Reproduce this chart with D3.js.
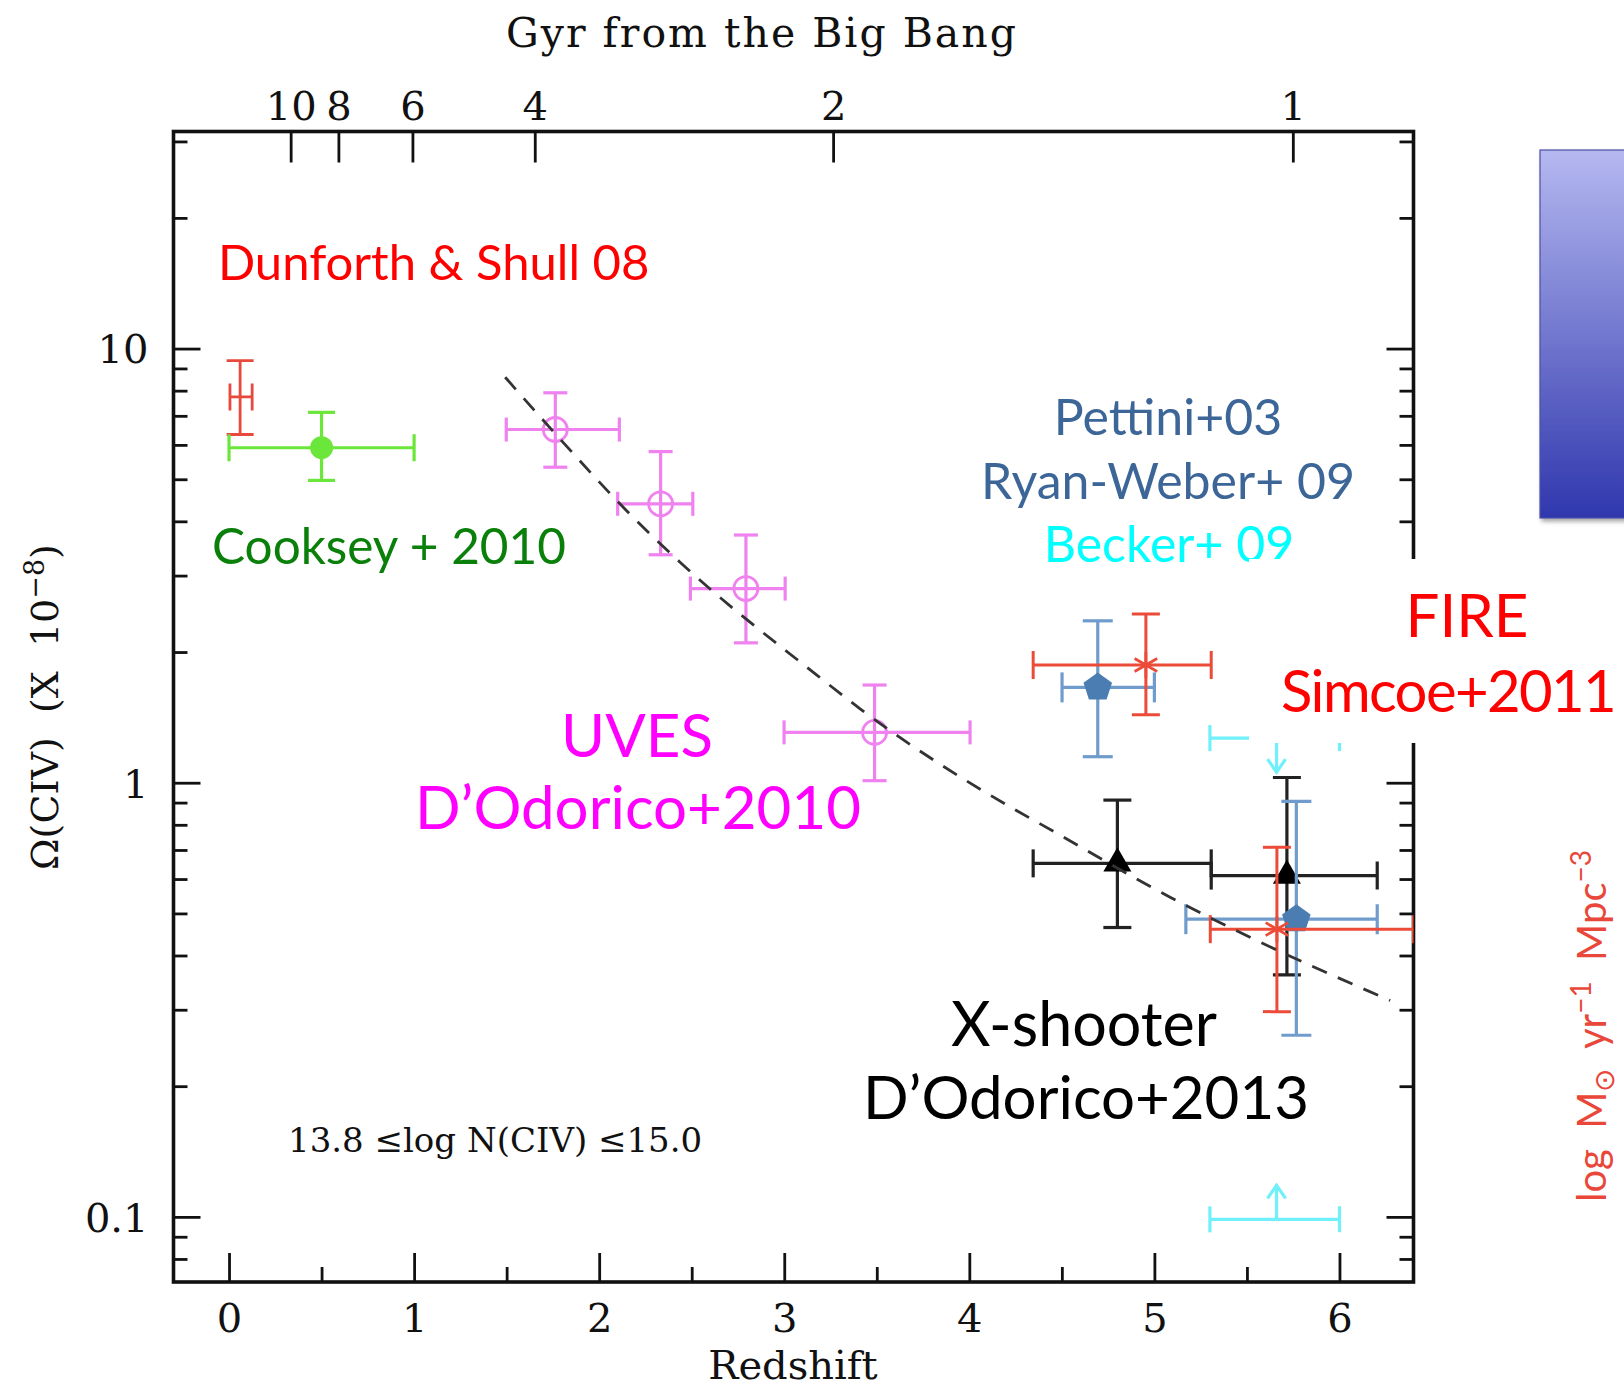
<!DOCTYPE html>
<html>
<head>
<meta charset="utf-8">
<script src="https://cdn.jsdelivr.net/npm/d3@7"></script>
<style>
  body { margin: 0; background: #fff; }
  svg { display: block; }
</style>
</head>
<body>
<svg id="chart" width="1624" height="1387"></svg>
<script>
// ---------- data: Omega(CIV) x 1e-8 versus redshift ----------
// Dunforth & Shull 08
const dunforthZ = [0.06], dunforthZLo = [0.005], dunforthZHi = [0.125];
const dunforthOmega = [7.74], dunforthLo = [6.34], dunforthHi = [9.38];

// Cooksey + 2010
const cookseyZ = [0.50], cookseyZLo = [0.0], cookseyZHi = [1.0];
const cookseyOmega = [5.91], cookseyLo = [4.97], cookseyHi = [7.13];

// UVES, D'Odorico+2010
const uvesZ = [1.763, 2.332, 2.793, 3.488];
const uvesZLo = [1.498, 2.100, 2.493, 2.999];
const uvesZHi = [2.109, 2.506, 3.005, 4.004];
const uvesOmega = [6.51, 4.39, 2.80, 1.306];
const uvesLo = [5.33, 3.35, 2.10, 1.011];
const uvesHi = [7.91, 5.79, 3.72, 1.679];

// Pettini+03 / Ryan-Weber+09
const pettiniZ = [4.694, 5.767], pettiniZLo = [4.501, 5.170], pettiniZHi = [5.000, 6.204];
const pettiniOmega = [1.658, 0.485], pettiniLo = [1.148, 0.262], pettiniHi = [2.36, 0.906];

// FIRE, Simcoe+2011
const fireZ = [4.954, 5.662], fireZLo = [4.345, 5.302], fireZHi = [5.307, 6.40];
const fireOmega = [1.867, 0.460], fireLo = [1.434, 0.297], fireHi = [2.447, 0.71];

// X-shooter, D'Odorico+2013
const xshZ = [4.800, 5.716], xshZLo = [4.345, 5.307], xshZHi = [5.307, 6.204];
const xshOmega = [0.652, 0.611], xshLo = [0.464, 0.361], xshHi = [0.912, 1.028];

// Becker+09 limits
const beckerZ = [5.66, 5.66], beckerZLo = [5.30, 5.30], beckerZHi = [6.0, 6.0];
const beckerOmega = [1.267, 0.0987];
const beckerKind = ["upper", "lower"];

// power-law fit (dashed curve)
const fitZ = [1.492, 1.771, 2.185, 2.437, 3.176, 3.410, 4.257, 4.383, 5.085, 5.500, 6.274];
const fitOmega = [8.59, 6.31, 4.08, 3.22, 1.77, 1.48, 0.862, 0.804, 0.545, 0.444, 0.315];

// axes
const zTicksMajor = [0, 1, 2, 3, 4, 5, 6];
const zTicksMinor = [0.5, 1.5, 2.5, 3.5, 4.5, 5.5];
const omegaTicksMajor = [0.1, 1, 10];
const omegaTickLabels = ["0.1", "1", "10"];
const gyrTickLabels = ["10", "8", "6", "4", "2", "1"];
const gyrTickZ = [0.333, 0.591, 0.991, 1.652, 3.264, 5.748];

// ---------- layout ----------
const svg = d3.select("#chart");
const L = 173.5, R = 1413.5, T = 131.5, B = 1282;
const x = d3.scaleLinear().domain([-0.3, 6.4]).range([L, R]);
const y = d3.scaleLog().domain([Math.pow(10, -1.15), Math.pow(10, 1.5)]).range([B, T]);

const serif = "'DejaVu Serif', 'Liberation Serif', serif";
const sans = "Lato, 'Open Sans', 'Noto Sans', sans-serif";
const axisColor = "#111";

const defs = svg.append("defs");
defs.append("clipPath").attr("id", "plotClip")
  .append("rect").attr("x", L).attr("y", T).attr("width", R - L).attr("height", B - T);

// minor log ticks: 2..9 times each decade inside the domain
const omegaMinor = y.ticks(40).filter(v => {
  const l = Math.log10(v);
  return Math.abs(l - Math.round(l)) > 1e-6;
});

function styleAxis(g) {
  g.select(".domain").remove();
  g.selectAll(".tick line").attr("stroke", axisColor).attr("stroke-width", 2.8);
  g.selectAll(".tick text").attr("fill", axisColor).attr("font-family", serif).attr("font-size", 40);
}

// left axis
svg.append("g").attr("transform", `translate(${L},0)`)
  .call(d3.axisLeft(y).tickValues(omegaTicksMajor).tickSize(-27).tickPadding(25)
    .tickFormat((d, i) => omegaTickLabels[i]))
  .call(styleAxis)
  .selectAll(".tick text").attr("dy", "0.36em");
svg.append("g").attr("transform", `translate(${L},0)`)
  .call(d3.axisLeft(y).tickValues(omegaMinor).tickSize(-14).tickFormat(""))
  .call(styleAxis);

// right axis
svg.append("g").attr("transform", `translate(${R},0)`)
  .call(d3.axisRight(y).tickValues(omegaTicksMajor).tickSize(-27).tickFormat(""))
  .call(styleAxis);
svg.append("g").attr("transform", `translate(${R},0)`)
  .call(d3.axisRight(y).tickValues(omegaMinor).tickSize(-14).tickFormat(""))
  .call(styleAxis);

// bottom axis (redshift)
svg.append("g").attr("transform", `translate(0,${B})`)
  .call(d3.axisBottom(x).tickValues(zTicksMajor).tickSize(-29).tickPadding(22).tickFormat(d3.format("d")))
  .call(styleAxis);
svg.append("g").attr("transform", `translate(0,${B})`)
  .call(d3.axisBottom(x).tickValues(zTicksMinor).tickSize(-15).tickFormat(""))
  .call(styleAxis);

// top axis (cosmic time)
svg.append("g").attr("transform", `translate(0,${T})`)
  .call(d3.axisTop(x).tickValues(gyrTickZ).tickSize(-31).tickPadding(12)
    .tickFormat((d, i) => gyrTickLabels[i]))
  .call(styleAxis);

// frame
svg.append("rect").attr("x", L).attr("y", T).attr("width", R - L).attr("height", B - T)
  .attr("fill", "none").attr("stroke", axisColor).attr("stroke-width", 3.6);

// axis titles
svg.append("text").attr("x", 762).attr("y", 47).attr("text-anchor", "middle")
  .attr("font-family", serif).attr("font-size", 41).attr("letter-spacing", 2).attr("fill", axisColor)
  .text("Gyr from the Big Bang");
svg.append("text").attr("x", 793).attr("y", 1379).attr("text-anchor", "middle")
  .attr("font-family", serif).attr("font-size", 40).attr("fill", axisColor)
  .text("Redshift");
const yTitle = svg.append("text").attr("transform", "translate(58,707) rotate(-90)")
  .attr("text-anchor", "middle").attr("font-family", serif).attr("font-size", 38)
  .attr("fill", axisColor).attr("xml:space", "preserve");
yTitle.append("tspan").text("Ω(CIV)  (X  10");
yTitle.append("tspan").attr("dy", -14).attr("font-size", 27).text("−8");
yTitle.append("tspan").attr("dy", 14).text(")");

svg.append("text").attr("x", 288).attr("y", 1152)
  .attr("font-family", serif).attr("font-size", 34).attr("fill", axisColor)
  .text("13.8 ≤log N(CIV) ≤15.0");

// ---------- marks ----------
const plot = svg.append("g").attr("clip-path", "url(#plotClip)");

function series(z, zLo, zHi, om, lo, hi) {
  return z.map((d, i) => ({ z: d, zLo: zLo[i], zHi: zHi[i], om: om[i], lo: lo[i], hi: hi[i] }));
}

function errorBars(data, color, width, cap) {
  const g = plot.append("g").attr("stroke", color).attr("stroke-width", width).attr("fill", "none");
  data.forEach(d => {
    const cx = x(d.z), cy = y(d.om);
    g.append("line").attr("x1", x(d.zLo)).attr("x2", x(d.zHi)).attr("y1", cy).attr("y2", cy);
    g.append("line").attr("x1", x(d.zLo)).attr("x2", x(d.zLo)).attr("y1", cy - cap / 2).attr("y2", cy + cap / 2);
    g.append("line").attr("x1", x(d.zHi)).attr("x2", x(d.zHi)).attr("y1", cy - cap / 2).attr("y2", cy + cap / 2);
    g.append("line").attr("x1", cx).attr("x2", cx).attr("y1", y(d.lo)).attr("y2", y(d.hi));
    g.append("line").attr("x1", cx - cap / 2).attr("x2", cx + cap / 2).attr("y1", y(d.lo)).attr("y2", y(d.lo));
    g.append("line").attr("x1", cx - cap / 2).attr("x2", cx + cap / 2).attr("y1", y(d.hi)).attr("y2", y(d.hi));
  });
  return g;
}

const dunforth = series(dunforthZ, dunforthZLo, dunforthZHi, dunforthOmega, dunforthLo, dunforthHi);
const cooksey = series(cookseyZ, cookseyZLo, cookseyZHi, cookseyOmega, cookseyLo, cookseyHi);
const uves = series(uvesZ, uvesZLo, uvesZHi, uvesOmega, uvesLo, uvesHi);
const pettini = series(pettiniZ, pettiniZLo, pettiniZHi, pettiniOmega, pettiniLo, pettiniHi);
const fire = series(fireZ, fireZLo, fireZHi, fireOmega, fireLo, fireHi);
const xsh = series(xshZ, xshZLo, xshZHi, xshOmega, xshLo, xshHi);

// Dunforth & Shull
errorBars(dunforth, "#e8493c", 2.8, 27);

// Cooksey
errorBars(cooksey, "#6be63a", 3.2, 27);
plot.append("g").selectAll("circle").data(cooksey).join("circle")
  .attr("cx", d => x(d.z)).attr("cy", d => y(d.om)).attr("r", 11.5).attr("fill", "#6be63a");

// UVES
errorBars(uves, "#ef82ef", 3.2, 24);
plot.append("g").selectAll("circle").data(uves).join("circle")
  .attr("cx", d => x(d.z)).attr("cy", d => y(d.om)).attr("r", 12)
  .attr("fill", "none").attr("stroke", "#ef82ef").attr("stroke-width", 2.8);

// X-shooter
errorBars(xsh, "#222", 3.2, 28);
plot.append("g").selectAll("path").data(xsh).join("path")
  .attr("transform", d => `translate(${x(d.z)},${y(d.om)})`)
  .attr("d", d3.symbol(d3.symbolTriangle, 340)).attr("fill", "#000");

// Pettini / Ryan-Weber
errorBars(pettini, "#6f9ccc", 3.2, 30);
function pentagon(r) {
  const pts = d3.range(5).map(k => {
    const a = -Math.PI / 2 + k * 2 * Math.PI / 5;
    return [r * Math.cos(a), r * Math.sin(a)];
  });
  return "M" + pts.map(p => p.join(",")).join("L") + "Z";
}
plot.append("g").selectAll("path").data(pettini).join("path")
  .attr("transform", d => `translate(${x(d.z)},${y(d.om)})`)
  .attr("d", pentagon(15)).attr("fill", "#4b7db2");

// FIRE
errorBars(fire, "#ec4b38", 3, 28);
fire.forEach(d => {
  const g = plot.append("g").attr("transform", `translate(${x(d.z)},${y(d.om)})`)
    .attr("stroke", "#ec4b38").attr("stroke-width", 2.8);
  [90, 30, 150].forEach(a => {
    const r = 13, t = a * Math.PI / 180;
    g.append("line").attr("x1", -r * Math.cos(t)).attr("y1", -r * Math.sin(t))
      .attr("x2", r * Math.cos(t)).attr("y2", r * Math.sin(t));
  });
});

// Becker limits
const becker = beckerZ.map((d, i) => ({ z: d, zLo: beckerZLo[i], zHi: beckerZHi[i], om: beckerOmega[i], kind: beckerKind[i] }));
const bg = plot.append("g").attr("stroke", "#6ff0fa").attr("stroke-width", 3.2).attr("fill", "none");
becker.forEach(d => {
  const cy = y(d.om), cx = x(d.z), cap = 26;
  const dir = d.kind === "upper" ? 1 : -1, len = 34;
  bg.append("line").attr("x1", x(d.zLo)).attr("x2", x(d.zHi)).attr("y1", cy).attr("y2", cy);
  bg.append("line").attr("x1", x(d.zLo)).attr("x2", x(d.zLo)).attr("y1", cy - cap / 2).attr("y2", cy + cap / 2);
  bg.append("line").attr("x1", x(d.zHi)).attr("x2", x(d.zHi)).attr("y1", cy - cap / 2).attr("y2", cy + cap / 2);
  bg.append("line").attr("x1", cx).attr("x2", cx).attr("y1", cy).attr("y2", cy + dir * len);
  bg.append("path").attr("d", `M${cx - 9},${cy + dir * (len - 13)}L${cx},${cy + dir * len}L${cx + 9},${cy + dir * (len - 13)}`);
});

// dashed fit curve
const fitLine = d3.line().x(d => x(d[0])).y(d => y(d[1])).curve(d3.curveMonotoneX);
plot.append("path").datum(fitZ.map((z, i) => [z, fitOmega[i]]))
  .attr("d", fitLine).attr("fill", "none").attr("stroke", "#333")
  .attr("stroke-width", 2.8).attr("stroke-dasharray", "16,12");

// ---------- annotations ----------
function label(txt, xx, yy, color, size, anchor) {
  return svg.append("text").attr("x", xx).attr("y", yy).attr("fill", color)
    .attr("font-family", sans).attr("font-size", size).attr("text-anchor", anchor || "start")
    .text(txt);
}
label("Dunforth & Shull 08", 218, 280, "#ff0000", 49);
label("Cooksey + 2010", 212, 564, "#0a800a", 49.5);
label("UVES", 637, 757, "#ff00ff", 60, "middle");
label("D’Odorico+2010", 638, 829, "#ff00ff", 60, "middle");
label("Pettini+03", 1168, 435, "#3d6698", 50, "middle");
label("Ryan-Weber+ 09", 1168, 499, "#3d6698", 50, "middle");
label("Becker+ 09", 1169, 562, "#00ffff", 50, "middle");
label("X-shooter", 1084, 1046, "#000", 61, "middle");
label("D’Odorico+2013", 1086, 1119, "#000", 60, "middle");

// white backing behind the FIRE label
svg.append("rect").attr("x", 1249).attr("y", 559).attr("width", 375).attr("height", 184).attr("fill", "#fff");
label("FIRE", 1467, 637, "#ff0000", 60, "middle");
label("Simcoe+2011", 1281, 712, "#ff0000", 58).attr("letter-spacing", -1.6);

// SFR panel fragment on the right
const grad = defs.append("linearGradient").attr("id", "panelGrad")
  .attr("x1", 0).attr("y1", 0).attr("x2", 0).attr("y2", 1);
grad.append("stop").attr("offset", 0).attr("stop-color", "#b5b8f0");
grad.append("stop").attr("offset", 1).attr("stop-color", "#2f37ad");
const shadow = defs.append("filter").attr("id", "panelShadow").attr("x", -0.2).attr("y", -0.1).attr("width", 1.5).attr("height", 1.3);
shadow.append("feDropShadow").attr("dx", 2).attr("dy", 3).attr("stdDeviation", 2).attr("flood-color", "#000").attr("flood-opacity", 0.35);
svg.append("rect").attr("x", 1540).attr("y", 150).attr("width", 100).attr("height", 368)
  .attr("fill", "url(#panelGrad)").attr("stroke", "#4a4fa6").attr("stroke-width", 1.2)
  .attr("filter", "url(#panelShadow)");

const sfr = svg.append("text").attr("transform", "translate(1606,1026) rotate(-90)")
  .attr("text-anchor", "middle").attr("font-family", sans).attr("font-size", 40)
  .attr("fill", "#e8473a").attr("xml:space", "preserve");
sfr.append("tspan").text("log  M");
sfr.append("tspan").attr("font-size", 28).attr("dy", 8).text("⊙");
sfr.append("tspan").attr("dy", -8).text("  yr");
sfr.append("tspan").attr("font-size", 28).attr("dy", -15).text("−1");
sfr.append("tspan").attr("dy", 15).text("  Mpc");
sfr.append("tspan").attr("font-size", 28).attr("dy", -15).text("−3");
</script>
</body>
</html>
